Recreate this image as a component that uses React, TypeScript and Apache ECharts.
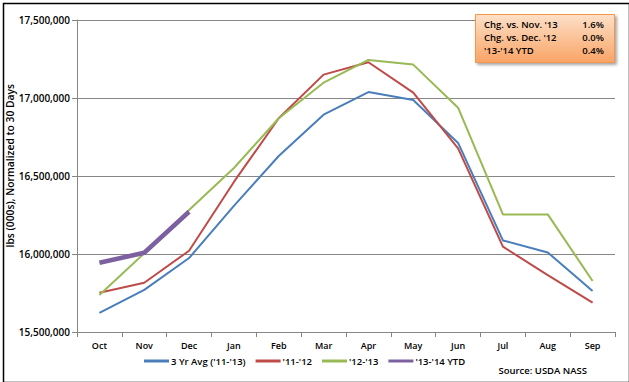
import React, { useEffect, useRef } from "react";
import * as echarts from "echarts";

const months = ["Oct", "Nov", "Dec", "Jan", "Feb", "Mar", "Apr", "May", "Jun", "Jul", "Aug", "Sep"];
const avg3yr = [15622000, 15770000, 15974000, 16308000, 16628000, 16893000, 17038000, 16987000, 16712000, 16087000, 16010000, 15763000];
const y1112 = [15752000, 15816000, 16021000, 16462000, 16870000, 17150000, 17229000, 17034000, 16677000, 16047000, 15865000, 15688000];
const y1213 = [15737000, 16004000, 16282000, 16551000, 16870000, 17098000, 17244000, 17214000, 16938000, 16254000, 16254000, 15827000];
const ytd1314 = [15944000, 16008000, 16271000];
const seriesNames = ["3 Yr Avg ('11-'13)", "'11-'12", "'12-'13", "'13-'14 YTD"];
const seriesColors = ["#4a7ebb", "#be4b48", "#98b954", "#7d60a0"];
const boxLabels = ["Chg. vs. Nov. '13", "Chg. vs. Dec. '12", "'13-'14 YTD"];
const boxValues = ["1.6%", "0.0%", "0.4%"];

const FONT = "'Open Sans', Lato, sans-serif";

export default function App() {
  const ref = useRef<HTMLDivElement>(null);
  useEffect(() => {
    document.body.style.margin = "0";
    const chart = echarts.init(ref.current!, null, { renderer: "svg" });
    const fmt = (v: number) => v.toLocaleString("en-US");
    const data = [avg3yr, y1112, y1213, ytd1314];
    const boxText: any[] = [];
    boxLabels.forEach((l, i) => {
      boxText.push({
        type: "text", left: 484, top: 19 + i * 13,
        style: { text: l, font: `600 9.5px ${FONT}`, fill: "#000" },
      });
      boxText.push({
        type: "text", right: 25, top: 19 + i * 13,
        style: { text: boxValues[i], font: `600 9.5px ${FONT}`, fill: "#000", textAlign: "right" },
      });
    });
    chart.setOption({
      animation: false,
      backgroundColor: "#fff",
      grid: { left: 77, right: 14, top: 20, bottom: 50 },
      xAxis: {
        type: "category",
        data: months,
        boundaryGap: true,
        axisLine: { lineStyle: { color: "#868686", width: 1 } },
        axisTick: { show: true, length: 5, lineStyle: { color: "#868686" } },
        axisLabel: { color: "#000", fontFamily: FONT, fontWeight: 600, fontSize: 9, margin: 9 },
      },
      yAxis: {
        type: "value",
        min: 15500000,
        max: 17500000,
        interval: 500000,
        axisLine: { show: true, lineStyle: { color: "#868686" } },
        axisTick: { show: true, length: 5, lineStyle: { color: "#868686" } },
        splitLine: { lineStyle: { color: "#868686", width: 1 } },
        axisLabel: { color: "#000", fontFamily: FONT, fontWeight: 600, fontSize: 10, margin: 7, formatter: fmt },
      },
      legend: {
        left: 139,
        top: 351,
        itemWidth: 25,
        itemGap: 10,
        textStyle: { fontFamily: FONT, fontWeight: 600, fontSize: 9.5, color: "#000", padding: [0, 0, 0, -3] },
        data: seriesNames.map((n, i) => ({
          name: n,
          icon: "rect",
          itemStyle: { color: seriesColors[i] },
        })),
        itemHeight: 3,
      },
      series: seriesNames.map((n, i) => ({
        name: n,
        type: "line",
        data: data[i],
        symbol: "none",
        color: seriesColors[i],
        lineStyle: { width: i === 3 ? 4.5 : 2, color: seriesColors[i] },
        z: i === 3 ? 5 : 2,
      })),
      graphic: [
        {
          type: "rect", left: 1, top: 1, shape: { width: 626, height: 379 },
          style: { fill: "none", stroke: "#000", lineWidth: 1.5 }, silent: true, z: 100,
        },
        {
          type: "text", left: 5, top: 84, rotation: Math.PI / 2,
          style: { text: "lbs (000s), Normalized to 30 Days", font: `600 10.3px ${FONT}`, fill: "#000" },
        },
        {
          type: "text", right: 42, top: 365,
          style: { text: "Source: USDA NASS", font: `600 9.5px ${FONT}`, fill: "#000", textAlign: "right" },
        },
        {
          type: "rect", left: 475, top: 14, shape: { width: 139, height: 48 },
          style: {
            fill: new echarts.graphic.LinearGradient(0, 0, 0, 1, [
              { offset: 0, color: "#fde0c8" },
              { offset: 1, color: "#f9a466" },
            ]),
            stroke: "#f79646", lineWidth: 1,
            shadowBlur: 3, shadowOffsetX: 2, shadowOffsetY: 2, shadowColor: "rgba(0,0,0,0.35)",
          },
          z: 50,
        },
        ...boxText.map((t) => ({ ...t, z: 51 })),
      ],
    });
    return () => chart.dispose();
  }, []);
  return <div ref={ref} style={{ width: 629, height: 382 }} />;
}
